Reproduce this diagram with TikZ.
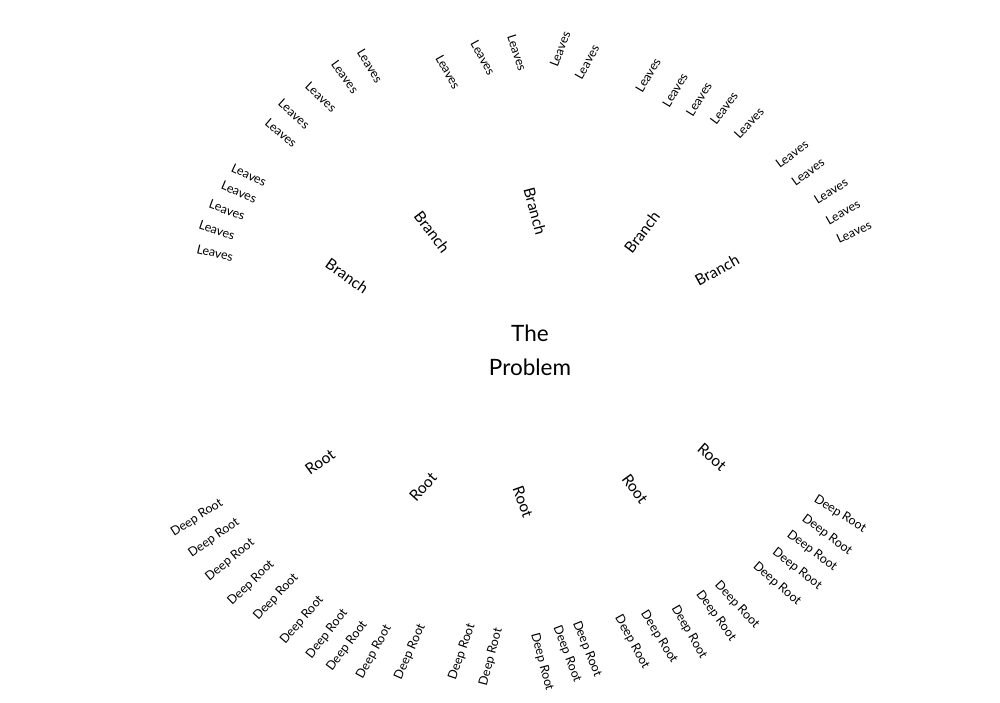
\documentclass[tikz,border=0pt]{standalone}
\usepackage{fontspec}
\setmainfont{Lato}
\begin{document}
\begin{tikzpicture}[x=1pt,y=1pt,
  lbl/.style={inner sep=0pt, text=black},
  leaf/.style={lbl, font=\fontsize{12.5}{15}\selectfont},
  deeproot/.style={lbl, font=\fontsize{12.5}{15}\selectfont},
  branchlbl/.style={lbl, font=\fontsize{15.5}{18}\selectfont},
  rootlbl/.style={lbl, font=\fontsize{15.5}{18}\selectfont},
  centerlbl/.style={lbl, font=\fontsize{22.5}{34}\selectfont, align=center}]
\useasboundingbox[fill=white] (0,0) rectangle (1000,-702);
\node[centerlbl] (problem) at (530,-350) {The\\Problem};
% Branches
\foreach \px/\py/\a [count=\i] in {347/276/-35, 432/232/-53, 535/211/-75, 642/232/53, 717/270/29}
  \node[branchlbl, rotate=\a] (branch\i) at (\px,-\py) {Branch};
% Roots
\foreach \px/\py/\a [count=\i] in {320/462/36, 423/487/48, 523/502/-70, 635/489/-54, 712/457/-41}
  \node[rootlbl, rotate=\a] (root\i) at (\px,-\py) {Root};
% Leaves
\foreach \px/\py/\a [count=\i] in {
  370/66/-59, 345/77/-54, 321/97/-43, 294/114/-42, 281/133/-40,
  448/72/-61, 483/58/-61, 517/53/-72, 560/49/69, 587/62/61,
  648/75/59, 675/90/59, 699/99/58, 724/108/53, 749/123/47,
  792/154/37, 808/172/36, 831/191/32, 843/212/30, 854/232/25,
  249/175/-25, 239/192/-23, 227/210/-20, 217/230/-19, 215/253/-13}
  \node[leaf, rotate=\a] (leaf\i) at (\px,-\py) {Leaves};
% Deep roots
\foreach \px/\py/\a [count=\i] in {
  197/518/33, 214/538/35, 230/560/39, 251/583/44, 276/597/47,
  302/620/49, 327/634/52, 347/646/53, 374/652/61, 410/652/66,
  462/652/71, 491/657/75,
  542/662/-75, 567/654/-69, 587/649/-68, 632/642/-61, 659/637/-58,
  689/632/-60, 716/616/-54, 737/605/-47, 777/584/-41, 797/569/-38,
  812/551/-37, 827/535/-37, 840/514/-32}
  \node[deeproot, rotate=\a] (deep\i) at (\px,-\py) {Deep Root};
\end{tikzpicture}
\end{document}
